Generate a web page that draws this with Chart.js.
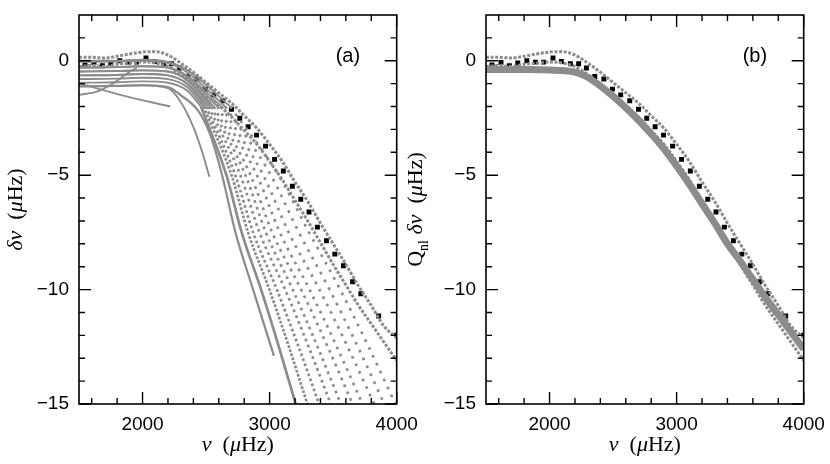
<!DOCTYPE html>
<html>
<head>
<meta charset="utf-8">
<script src="https://cdn.jsdelivr.net/npm/chart.js@4.4.1/dist/chart.umd.min.js"></script>
<style>
  body { margin: 0; background: #fff; }
  #wrap { position: relative; width: 830px; height: 464px; overflow: hidden; }
  .panel { position: absolute; top: 0; height: 464px; }
  #pa { left: 0; width: 440px; }
  #pb { left: 405px; width: 425px; }
</style>
</head>
<body>
<div id="wrap">
  <div class="panel" id="pa"><canvas id="chartA"></canvas></div>
  <div class="panel" id="pb"><canvas id="chartB"></canvas></div>
</div>
<script>
// axis ticks
const xMajor = [2000, 3000, 4000];
const xMinor = [1600, 1800, 2200, 2400, 2600, 2800, 3200, 3400, 3600, 3800];
const yMajor = [0, -5, -10, -15];
const yMinor = [1, -1, -2, -3, -4, -6, -7, -8, -9, -11, -12, -13, -14];

// observed differences (black squares), same in both panels
const obsNu = [1547, 1618, 1684, 1750, 1821, 1889, 1953, 2027, 2093, 2164, 2229, 2290, 2356, 2427, 2495, 2560, 2631, 2700, 2765, 2831, 2897, 2968, 3039, 3108, 3179, 3245, 3310, 3376, 3447, 3513, 3581, 3653, 3718, 3858, 4000];
const obsDnu = [-0.18, -0.08, -0.22, -0.10, 0.0, -0.06, -0.06, 0.12, -0.03, -0.13, -0.13, -0.32, -0.69, -0.80, -1.24, -1.49, -1.75, -2.12, -2.51, -2.88, -3.25, -3.73, -4.31, -4.82, -5.48, -6.05, -6.61, -7.27, -7.87, -8.45, -8.96, -9.66, -10.18, -11.15, -11.99];

// upper grey band (low degree modes)
const bandNu = [1500, 1600, 1700, 1800, 1900, 2000, 2100, 2200, 2300, 2400, 2500, 2600, 2700, 2800, 2900, 3000, 3100, 3200, 3300, 3400, 3500, 3600, 3700, 3800, 3900, 4000];
const bandTop = [0.15, 0.15, 0.12, 0.2, 0.3, 0.38, 0.4, 0.25, -0.1, -0.5, -0.95, -1.4, -1.85, -2.4, -2.95, -3.65, -4.4, -5.3, -6.15, -7.1, -8.0, -8.9, -9.85, -10.7, -11.6, -12.1];
const bandLow = [-0.25, -0.2, -0.25, -0.15, -0.1, -0.05, -0.1, -0.25, -0.6, -1.05, -1.55, -1.95, -2.45, -3.05, -3.65, -4.4, -5.2, -6.1, -7.0, -7.95, -8.9, -9.8, -10.7, -11.5, -12.3, -13.1];

// panel (b): collapsed band of the scaled higher degree modes
const lowBandDnu = [-0.38, -0.38, -0.38, -0.38, -0.39, -0.4, -0.43, -0.5, -0.72, -1.1, -1.55, -2.05, -2.6, -3.2, -3.85, -4.6, -5.4, -6.25, -7.1, -8.0, -8.75, -9.55, -10.35, -11.1, -11.85, -12.6];

// panel (a): individual degree curves
const shortNu = [1500, 1800, 2000, 2200, 2300, 2400, 2470, 2526];
const shortDnu = [-1.12, -1.1, -1.07, -1.2, -1.8, -2.9, -4.0, -5.07];
const contNu = [1500, 1800, 2000, 2200, 2300, 2440, 2530, 2626, 2731, 2870, 3034];
const contDnu = [-1.12, -1.1, -1.07, -1.15, -1.5, -2.2, -3.2, -5, -7.5, -10, -12.9];
const riseNu = [1500, 1640, 1771, 1903, 1955];
const riseDnu = [-1.49, -1.35, -0.98, -0.47, -0.32];
const slopeNu = [1500, 1824, 2218];
const slopeDnu = [-0.98, -1.49, -2.0];

const d1Nu = [1500, 1800, 2000, 2200, 2350, 2460, 2660, 2780, 2933, 3073, 3205];
const d1Dnu = [-0.96, -0.94, -0.9, -0.96, -1.3, -2, -5, -7.5, -10, -12.5, -15];
const d2Nu = [1500, 1800, 2000, 2200, 2350, 2480, 2700, 2830, 2998, 3152, 3297];
const d2Dnu = [-0.8, -0.78, -0.74, -0.8, -1.15, -2, -5, -7.5, -10, -12.5, -15];
const d3Nu = [1500, 1800, 2000, 2200, 2350, 2500, 2730, 2870, 3057, 3228, 3389];
const d3Dnu = [-0.64, -0.62, -0.58, -0.64, -1.02, -2, -5, -7.5, -10, -12.5, -15];
const d4Nu = [1500, 1800, 2000, 2200, 2350, 2520, 2770, 2920, 3122, 3307, 3481];
const d4Dnu = [-0.64, -0.62, -0.58, -0.64, -0.98, -2, -5, -7.5, -10, -12.5, -15];
const d5Nu = [1500, 1800, 2000, 2200, 2350, 2540, 2810, 2970, 3182, 3377, 3560];
const d5Dnu = [-0.47, -0.45, -0.42, -0.47, -0.85, -2, -5, -7.5, -10, -12.5, -15];
const d6Nu = [1500, 1800, 2000, 2200, 2350, 2560, 2850, 3020, 3248, 3457, 3653];
const d6Dnu = [-0.47, -0.45, -0.42, -0.47, -0.82, -2, -5, -7.5, -10, -12.5, -15];
const d7Nu = [1500, 1800, 2000, 2200, 2350, 2590, 2900, 3080, 3314, 3529, 3731];
const d7Dnu = [-0.3, -0.28, -0.24, -0.3, -0.7, -2, -5, -7.5, -10, -12.5, -15];
const d8Nu = [1500, 1800, 2000, 2200, 2350, 2620, 2950, 3150, 3392, 3614, 3823];
const d8Dnu = [-0.3, -0.28, -0.24, -0.3, -0.65, -2, -5, -7.5, -10, -12.5, -15];
const d9Nu = [1500, 1800, 2000, 2200, 2350, 2650, 3010, 3230, 3472, 3694, 3902];
const d9Dnu = [-0.05, -0.03, 0.0, -0.1, -0.5, -2, -5, -7.5, -10, -12.5, -15];
const d10Nu = [1500, 1800, 2000, 2200, 2350, 2690, 3070, 3310, 3555, 3779, 3990];
const d10Dnu = [0.0, 0.0, 0.05, -0.05, -0.4, -2, -5, -7.5, -10, -12.5, -15];

const GREY = '#8c8c8c';

function pts(nu, dnu) {
    return nu.map((v, i) => ({ x: v, y: dnu[i] }));
}

function curve(nu, dnu, dash, width) {
    return {
        data: pts(nu, dnu),
        showLine: true,
        borderColor: GREY,
        borderWidth: width || 1.9,
        borderDash: dash || [],
        borderCapStyle: 'butt',
        cubicInterpolationMode: 'monotone',
        pointRadius: 0
    };
}

// solid where the modes crowd together, dotted where they spread out
function degree(nu, dnu, dash) {
    return [
        curve(nu.slice(0, 6), dnu.slice(0, 6)),
        curve(nu.slice(5), dnu.slice(5), dash, 2.7)
    ];
}

function observed() {
    return {
        data: pts(obsNu, obsDnu),
        showLine: false,
        pointStyle: 'rect',
        pointRadius: 3.5,
        backgroundColor: '#000',
        borderColor: '#000',
        borderWidth: 0
    };
}

function drawRich(ctx, parts, x, y, size) {
    // parts: [text, italic, sub]
    const fontOf = p => (p[1] ? 'italic ' : '') + (p[2] ? Math.round(size * 0.62) : size) + 'px "Liberation Serif"';
    let total = 0;
    parts.forEach(p => { ctx.font = fontOf(p); total += ctx.measureText(p[0]).width; });
    let cx = x - total / 2;
    parts.forEach(p => {
        ctx.font = fontOf(p);
        ctx.fillText(p[0], cx, p[2] ? y + size * 0.25 : y);
        cx += ctx.measureText(p[0]).width;
    });
}

const xTitle = [['\u03bd', true], ['  (', false], ['\u03bc', true], ['Hz)', false]];

const framePlugin = {
    id: 'frame',
    afterDraw(chart, args, opts) {
        const { ctx, chartArea: a, scales: { x, y } } = chart;
        ctx.save();
        ctx.strokeStyle = '#000';
        ctx.lineWidth = 1.6;
        ctx.strokeRect(a.left, a.top, a.right - a.left, a.bottom - a.top);
        ctx.lineWidth = 1.4;
        ctx.beginPath();
        const xt = (v, len) => {
            const px = x.getPixelForValue(v);
            ctx.moveTo(px, a.bottom); ctx.lineTo(px, a.bottom - len);
            ctx.moveTo(px, a.top); ctx.lineTo(px, a.top + len);
        };
        const yt = (v, len) => {
            const py = y.getPixelForValue(v);
            ctx.moveTo(a.left, py); ctx.lineTo(a.left + len, py);
            ctx.moveTo(a.right, py); ctx.lineTo(a.right - len, py);
        };
        xMajor.forEach(v => xt(v, 12));
        xMinor.forEach(v => xt(v, 6));
        yMajor.forEach(v => yt(v, 12));
        yMinor.forEach(v => yt(v, 6));
        ctx.stroke();

        ctx.fillStyle = '#000';
        ctx.textBaseline = 'alphabetic';
        // panel letter
        ctx.font = '20px "Liberation Sans"';
        ctx.textAlign = 'center';
        ctx.fillText(opts.letter, x.getPixelForValue(3616), y.getPixelForValue(-0.05));
        ctx.textAlign = 'left';
        // x title
        drawRich(ctx, xTitle, (a.left + a.right) / 2, 451, 22);
        // y title
        ctx.translate(opts.yTitleX, (a.top + a.bottom) / 2);
        ctx.rotate(-Math.PI / 2);
        drawRich(ctx, opts.yTitle, 0, 7, 22);
        ctx.restore();
    }
};

function makeChart(id, datasets, leftW, rightPad, letter, yTitle, yTitleX) {
    return new Chart(document.getElementById(id).getContext('2d'), {
        type: 'scatter',
        data: { datasets },
        options: {
            responsive: true,
            maintainAspectRatio: false,
            animation: false,
            layout: { padding: { top: 15, right: rightPad, left: 0, bottom: 0 } },
            plugins: {
                legend: { display: false },
                tooltip: { enabled: false },
                frame: { letter, yTitle, yTitleX }
            },
            scales: {
                x: {
                    type: 'linear', min: 1500, max: 4000,
                    grid: { display: false, drawTicks: false },
                    border: { display: false },
                    afterBuildTicks: s => { s.ticks = xMajor.map(v => ({ value: v })); },
                    afterFit: s => { s.height = 60; s.paddingLeft = 0; s.paddingRight = 0; },
                    ticks: {
                        padding: 9, color: '#000', font: { family: 'Liberation Sans', size: 19 }, maxRotation: 0,
                        callback: v => String(v)
                    }
                },
                y: {
                    type: 'linear', min: -15, max: 2,
                    grid: { display: false, drawTicks: false },
                    border: { display: false },
                    afterBuildTicks: s => { s.ticks = yMajor.map(v => ({ value: v })); },
                    afterFit: s => { s.width = leftW; s.paddingTop = 0; s.paddingBottom = 0; },
                    ticks: {
                        padding: 10, color: '#000', font: { family: 'Liberation Sans', size: 19 },
                        callback: v => String(v).replace('-', '\u2212')
                    }
                }
            }
        },
        plugins: [framePlugin]
    });
}

const datasetsA = [
    curve(shortNu, shortDnu),
    curve(contNu, contDnu, [], 2.2),
    curve(riseNu, riseDnu),
    curve(slopeNu, slopeDnu),
    ...degree(d1Nu, d1Dnu, []),
    ...degree(d2Nu, d2Dnu, [2.7, 1.6]),
    ...degree(d3Nu, d3Dnu, [2.7, 2.6]),
    ...degree(d4Nu, d4Dnu, [2.7, 3.6]),
    ...degree(d5Nu, d5Dnu, [2.7, 4.2]),
    ...degree(d6Nu, d6Dnu, [2.7, 4.8]),
    ...degree(d7Nu, d7Dnu, [2.7, 5.2]),
    ...degree(d8Nu, d8Dnu, [2.7, 5.6]),
    ...degree(d9Nu, d9Dnu, [2.7, 6]),
    ...degree(d10Nu, d10Dnu, [2.7, 6]),
    curve(bandNu, bandTop, [3, 1.6], 3),
    curve(bandNu, bandLow, [3, 1.6], 3),
    observed()
];

const datasetsB = [
    curve(bandNu, lowBandDnu, [], 7),
    curve(bandNu, bandTop, [3, 1.6], 3),
    curve(bandNu, bandLow, [3, 1.6], 3),
    observed()
];

makeChart('chartA', datasetsA, 79, 43.3, '(a)',
    [['\u03b4\u03bd', true], ['  (', false], ['\u03bc', true], ['Hz)', false]], 15);
makeChart('chartB', datasetsB, 81, 26.3, '(b)',
    [['Q', false], ['nl', false, true], [' ', false], ['\u03b4\u03bd', true], ['  (', false], ['\u03bc', true], ['Hz)', false]], 10);
</script>
</body>
</html>
